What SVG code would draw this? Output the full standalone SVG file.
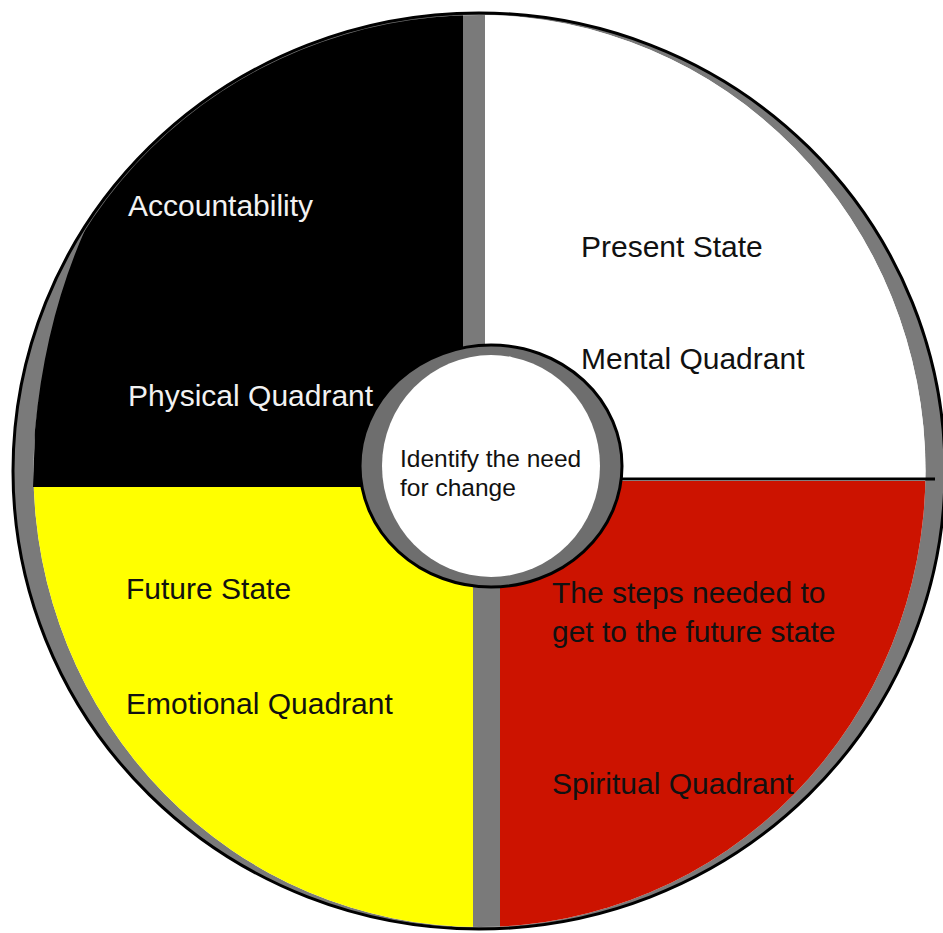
<svg xmlns="http://www.w3.org/2000/svg" width="943" height="933" viewBox="0 0 943 933">
  <style>
    .lbl { font-family: "Liberation Sans", Arial, sans-serif; font-size: 30px; }
    .ctr { font-family: "Liberation Sans", Arial, sans-serif; font-size: 24.5px; fill: #111; }
    .dark { fill: #111; }
    .light { fill: #f2f2f2; }
  </style>
  <defs>
    <clipPath id="wheel">
      <ellipse cx="479.5" cy="471" rx="446" ry="456"/>
    </clipPath>
    <clipPath id="outer">
      <ellipse cx="479" cy="471" rx="464" ry="456"/>
    </clipPath>
  </defs>
  <rect x="0" y="0" width="943" height="933" fill="#ffffff"/>
  <!-- outer ring -->
  <ellipse cx="479" cy="471" rx="466" ry="458" fill="#7a7a7a" stroke="#000" stroke-width="3"/>
  <g clip-path="url(#wheel)">
    <rect x="0" y="0" width="943" height="933" fill="#ffffff"/>
    <g id="quadrant-mental">
      <rect x="485" y="0" width="458" height="479" fill="#ffffff"/>
    </g>
    <g id="quadrant-emotional">
      <rect x="0" y="487" width="473" height="446" fill="#ffff00"/>
    </g>
    <g id="quadrant-spiritual">
      <rect x="500" y="481" width="443" height="452" fill="#cc1300"/>
    </g>
    <rect x="463" y="0" width="22" height="480" fill="#7a7a7a"/>
    <rect x="473" y="480" width="27" height="453" fill="#7a7a7a"/>
  </g>
  <g id="quadrant-physical">
    <path d="M463,0 L0,0 L0,230 L85,230 Q45,320 35,430 L33,487 L463,487 Z" fill="#000000" clip-path="url(#outer)"/>
  </g>
  <g id="connectors">
    <line x1="615" y1="479" x2="935" y2="479" stroke="#000" stroke-width="3"/>
  </g>
  <g id="center">
    <ellipse cx="491" cy="466" rx="131" ry="121" fill="#6e6e6e" stroke="#000" stroke-width="3"/>
    <ellipse cx="491" cy="466" rx="109" ry="111" fill="#ffffff"/>
    <text class="ctr" x="400" y="467">Identify the need</text>
    <text class="ctr" x="400" y="496">for change</text>
  </g>
  <g id="label-physical">
    <text class="lbl light" x="128" y="216">Accountability</text>
    <text class="lbl light" x="128" y="406">Physical Quadrant</text>
  </g>
  <g id="label-mental">
    <text class="lbl dark" x="581" y="257">Present State</text>
    <text class="lbl dark" x="581" y="369">Mental Quadrant</text>
  </g>
  <g id="label-emotional">
    <text class="lbl dark" x="126" y="599">Future State</text>
    <text class="lbl dark" x="126" y="714">Emotional Quadrant</text>
  </g>
  <g id="label-spiritual">
    <text class="lbl dark" x="552" y="603">The steps needed to</text>
    <text class="lbl dark" x="552" y="642">get to the future state</text>
    <text class="lbl dark" x="552" y="794">Spiritual Quadrant</text>
  </g>
</svg>
